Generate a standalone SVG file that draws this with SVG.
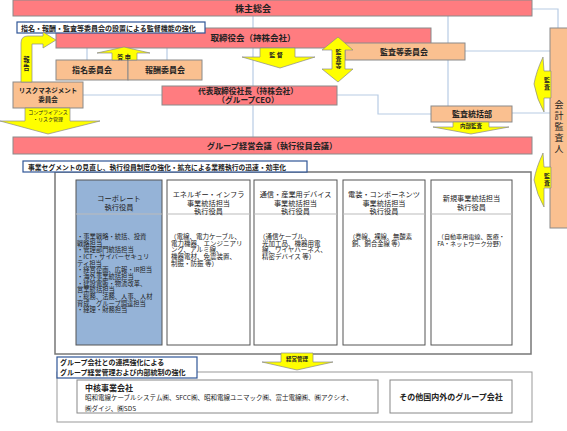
<svg xmlns="http://www.w3.org/2000/svg" width="567" height="431" viewBox="0 0 567 431">
<style>
.t{font-family:"Noto Sans CJK JP","Noto Sans",sans-serif;fill:#222}
.b{font-weight:bold}
.m{text-anchor:middle}
.red{fill:#FF7C80;stroke:#8a8a8a;stroke-width:1}
.org{fill:#FAC090;stroke:#8a8a8a;stroke-width:1}
.yel{fill:#FFFF00;stroke:#8a8a8a;stroke-width:0.7}
.conn{stroke:#B8CCE4;stroke-width:1.2;fill:none}
.call{fill:#fff;stroke:#2F5597;stroke-width:1.2}
.ex{fill:#fff;stroke:#555;stroke-width:1}
.div{stroke:#bbb;stroke-width:1}
</style>
<rect width="567" height="431" fill="#fff"/>
<g id="connectors">
<path class="conn" d="M532,9 H558 V28"/>
<path class="conn" d="M253,16 V28"/>
<path class="conn" d="M253,48 V86"/>
<path class="conn" d="M253,105 V137"/>
<path class="conn" d="M87,48 V60"/>
<path class="conn" d="M167,48 V60"/>
<path class="conn" d="M83,95 H162"/>
<path class="conn" d="M448,16 V106"/>
<path class="conn" d="M465,51 H550"/>
<path class="conn" d="M337,95 H378 V114 H431"/>
<path class="conn" d="M512,113 H550"/>
</g>
<g id="kabunushi">
<rect class="red" x="13" y="0" width="519" height="16"/>
<text class="t b m" x="253" y="12" font-size="9">株主総会</text>
</g>
<g id="torishimariyaku">
<rect class="red" x="56" y="28" width="375" height="20"/>
<text class="t b m" x="253" y="41" font-size="8.5">取締役会（持株会社）</text>
</g>
<g id="callout1">
<rect class="call" x="17" y="22" width="188" height="11"/>
<text class="t b" x="21" y="30.5" font-size="7">指名・報酬・監査等委員会の設置による監督機能の強化</text>
</g>
<g id="kansatou-iinkai">
<rect class="org" x="345" y="43" width="120" height="17"/>
<text class="t b m" x="404" y="54.5" font-size="8">監査等委員会</text>
</g>
<g id="shimei">
<rect class="org" x="56" y="60" width="72" height="20"/>
<text class="t b m" x="92" y="73" font-size="8">指名委員会</text>
</g>
<g id="houshu">
<rect class="org" x="128" y="60" width="74" height="20"/>
<text class="t b m" x="165" y="73" font-size="8">報酬委員会</text>
</g>
<g id="risk">
<rect class="org" x="13" y="82" width="70" height="26"/>
<text class="t b m" x="48" y="93" font-size="6.5">リスクマネジメント</text>
<text class="t b m" x="48" y="102" font-size="6.5">委員会</text>
</g>
<g id="ceo">
<rect class="red" x="162" y="86" width="175" height="19"/>
<text class="t b m" x="248" y="94" font-size="7.7">代表取締役社長（持株会社）</text>
<text class="t b m" x="248" y="103" font-size="7.7">（グループCEO）</text>
</g>
<g id="kansatoukatsu">
<rect class="org" x="431" y="106" width="81" height="16"/>
<text class="t b m" x="472" y="117" font-size="8">監査統括部</text>
</g>
<g id="kaikei">
<rect class="org" x="550" y="28" width="18" height="200"/>
<text class="t m" x="559" font-size="9"><tspan x="559" y="108">会</tspan><tspan x="559" y="119">計</tspan><tspan x="559" y="130">監</tspan><tspan x="559" y="141">査</tspan><tspan x="559" y="152">人</tspan></text>
</g>
<g id="group-keiei">
<rect class="red" x="13" y="137" width="519" height="17"/>
<text class="t b m" x="272" y="148.5" font-size="8.2">グループ経営会議（執行役員会議）</text>
</g>
<g id="arrows">
<path class="yel" d="M21,82 V43 Q21,36 28,36 H43 V32 L56,40 L43,48 V44 H32 V82 Z"/>
<text class="t b m" font-size="6.3"><tspan x="26.5" y="62">報</tspan><tspan x="26.5" y="70">告</tspan></text>
<path class="yel" d="M25,108 H70 V121 H100 L48,134 L0,121 H25 Z"/>
<text class="t m" x="48" y="114" font-size="5">コンプライアンス</text>
<text class="t m" x="48" y="121" font-size="5">・リスク管理</text>
<path class="yel" d="M112,60 V53 H97 L124,47 L150,53 H137 V60 Z"/>
<text class="t b m" x="124" y="59" font-size="6">答 申</text>
<path class="yel" d="M260,48 V57 H242 L280,68 L315,57 H295 V48 Z"/>
<text class="t b m" x="276" y="57" font-size="6">監 督</text>
<path class="yel" d="M338,37 L353,50 H345 V69 H353 L338,82 L322,69 H332 V50 H322 Z"/>
<text class="t b m" font-size="6"><tspan x="338.5" y="54">監</tspan><tspan x="338.5" y="61">査</tspan><tspan x="338.5" y="68">等</tspan></text>
<path class="yel" d="M551,71 H544 L543,57 Q536,72 534,84 Q537,100 544,112 V98 H551 Z"/>
<text class="t b m" font-size="6"><tspan x="547" y="82">監</tspan><tspan x="547" y="89">査</tspan></text>
<path class="yel" d="M551,167 H544 L543,153 Q536,168 534,180 Q537,195 544,207 V188 H551 Z"/>
<text class="t b m" font-size="6"><tspan x="547" y="178">監</tspan><tspan x="547" y="185">査</tspan></text>
<path class="yel" d="M453,122 V127 H433 L471,134 L509,127 H489 V122 Z"/>
<text class="t b m" x="471" y="128" font-size="5.5">内部監査</text>
</g>
<g id="segment-box">
<rect x="55" y="172" width="476" height="182" fill="#fff" stroke="#777" stroke-width="1.5"/>
</g>
<g id="callout2">
<rect class="call" x="23" y="161" width="284" height="11"/>
<text class="t b" x="28" y="169.8" font-size="6.8">事業セグメントの見直し、執行役員制度の強化・拡充による業務執行の迅速・効率化</text>
</g>
<g id="corporate">
<rect x="76" y="180" width="86" height="165" fill="#95B3D7" stroke="#555"/>
<line class="div" x1="76" y1="214" x2="162" y2="214"/>
<text class="t m" x="119" y="201" font-size="7.3">コーポレート</text>
<text class="t m" x="119" y="210" font-size="7.3">執行役員</text>
<text class="t" font-size="6.3">
<tspan x="77" y="239">・事業戦略・統括、投資</tspan>
<tspan x="77" y="245.6">戦略担当</tspan>
<tspan x="77" y="252.3">・管理部門統括担当</tspan>
<tspan x="77" y="259">・ICT・サイバーセキュリ</tspan>
<tspan x="77" y="265.6">ティ担当</tspan>
<tspan x="77" y="272.3">・経営企画、広報・IR担当</tspan>
<tspan x="77" y="279">・海外事業統括担当</tspan>
<tspan x="77" y="285.6">・建設電販・物流改革、</tspan>
<tspan x="77" y="292.3">営業統括担当</tspan>
<tspan x="77" y="299">・総務、法務、人事、人材</tspan>
<tspan x="77" y="305.6">育成、グループ調達担当</tspan>
<tspan x="77" y="312.3">・経理・財務担当</tspan>
</text>
</g>
<g id="energy">
<rect class="ex" x="167" y="180" width="83" height="165"/>
<line class="div" x1="167" y1="214" x2="250" y2="214"/>
<text class="t m" x="208.5" y="197" font-size="7.2">エネルギー・インフラ</text>
<text class="t m" x="208.5" y="205.5" font-size="7.2">事業統括担当</text>
<text class="t m" x="208.5" y="214" font-size="7.2">執行役員</text>
<text class="t" font-size="6.5">
<tspan x="170" y="239">（電線、電力ケーブル、</tspan>
<tspan x="171" y="245.6">電力機器、エンジニアリ</tspan>
<tspan x="171" y="252.3">ング、アルミ線、</tspan>
<tspan x="171" y="259">機器電材、免震装置、</tspan>
<tspan x="171" y="265.6">制振・防振 等）</tspan>
</text>
</g>
<g id="tsushin">
<rect class="ex" x="254" y="180" width="83" height="165"/>
<line class="div" x1="254" y1="214" x2="337" y2="214"/>
<text class="t m" x="295.5" y="197" font-size="7.2">通信・産業用デバイス</text>
<text class="t m" x="295.5" y="205.5" font-size="7.2">事業統括担当</text>
<text class="t m" x="295.5" y="214" font-size="7.2">執行役員</text>
<text class="t" font-size="6.5">
<tspan x="259" y="239">（通信ケーブル、</tspan>
<tspan x="262" y="245.6">光加工品、機器用電</tspan>
<tspan x="262" y="252.3">線、ワイヤハーネス、</tspan>
<tspan x="262" y="259">精密デバイス 等）</tspan>
</text>
</g>
<g id="denso">
<rect class="ex" x="343" y="180" width="82" height="165"/>
<line class="div" x1="343" y1="214" x2="425" y2="214"/>
<text class="t m" x="384" y="197" font-size="7.2">電装・コンポーネンツ</text>
<text class="t m" x="384" y="205.5" font-size="7.2">事業統括担当</text>
<text class="t m" x="384" y="214" font-size="7.2">執行役員</text>
<text class="t" font-size="6.3">
<tspan x="349" y="239">（巻線、裸線、無酸素</tspan>
<tspan x="352" y="245.6">銅、銅合金線 等）</tspan>
</text>
</g>
<g id="shinki">
<rect class="ex" x="431" y="180" width="81" height="165"/>
<line class="div" x1="431" y1="214" x2="512" y2="214"/>
<text class="t m" x="471.5" y="201" font-size="7.2">新規事業統括担当</text>
<text class="t m" x="471.5" y="210" font-size="7.2">執行役員</text>
<text class="t m" font-size="6.1">
<tspan x="472" y="239">（自動車用電線、医療・</tspan>
<tspan x="471" y="245.6">FA・ネットワーク分野）</tspan>
</text>
</g>
<g id="group-box">
<rect x="57" y="372" width="475" height="50" fill="#fff" stroke="#999" stroke-width="1"/>
</g>
<g id="keiei-arrow">
<path class="yel" d="M281,353 V362 H262 L297,370 L333,362 H313 V353 Z"/>
<text class="t b m" x="297" y="361" font-size="5.5">経営管理</text>
</g>
<g id="callout3">
<rect class="call" x="57" y="357" width="140" height="21"/>
<text class="t b" x="60" y="365" font-size="7">グループ会社との連携強化による</text>
<text class="t b" x="60" y="375" font-size="7">グループ経営管理および内部統制の強化</text>
</g>
<g id="chukaku">
<rect x="77" y="380" width="301" height="33" fill="#fff" stroke="#888"/>
<text class="t b" x="85" y="390.5" font-size="8">中核事業会社</text>
<text class="t" x="85" y="400.3" font-size="6.5">昭和電線ケーブルシステム㈱、SFCC㈱、昭和電線ユニマック㈱、富士電線㈱、㈱アクシオ、</text>
<text class="t" x="85" y="410.5" font-size="6.5">㈱ダイジ、㈱SDS</text>
</g>
<g id="sonota">
<rect x="390" y="380" width="122" height="33" fill="#fff" stroke="#888"/>
<text class="t b m" x="451" y="399.5" font-size="8">その他国内外のグループ会社</text>
</g>
</svg>
